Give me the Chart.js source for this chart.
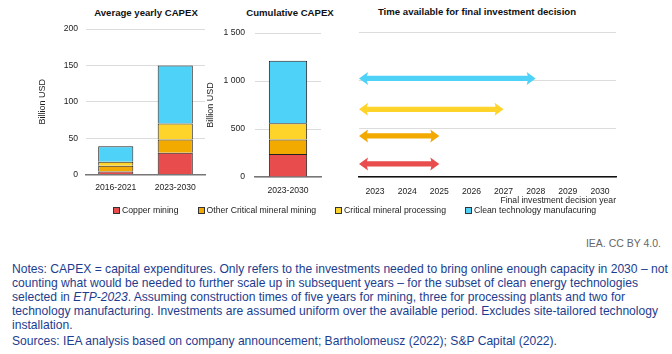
<!DOCTYPE html>
<html>
<head>
<meta charset="utf-8">
<script src="https://cdn.jsdelivr.net/npm/chart.js@4.4.1/dist/chart.umd.min.js"></script>
<style>
  body { margin: 0; width: 672px; height: 354px; background: #fff; position: relative; overflow: hidden;
         font-family: "Liberation Sans", Arial, sans-serif; }
  canvas, .abs { position: absolute; }
  .title { font-weight: bold; font-size: 9.6px; color: #111; transform: translateX(-50%); white-space: nowrap; }
  #legend { left: 113px; top: 205px; display: flex; font-size: 8.7px; color: #222; line-height: 11px; white-space: nowrap; }
  #legend span.item { margin-right: 19px; display: flex; align-items: center; }
  #legend i { display: inline-block; width: 5px; height: 5px; border: 1px solid #333; margin-right: 2px; }
  #credit { right: 11px; top: 237px; font-size: 10.5px; color: #666; }
  #notes { left: 12px; top: 262px; width: 658px; font-size: 12.1px; line-height: 14px; color: #1c3d8f; }
  #notes p { margin: 0; }
</style>
</head>
<body>

<div class="abs title" style="left:146px; top:7px">Average yearly CAPEX</div>
<div class="abs title" style="left:290px; top:7px">Cumulative CAPEX</div>
<div class="abs title" style="left:477px; top:6px">Time available for final investment decision</div>

<canvas id="avgChart" width="215" height="198" style="left:0; top:0"></canvas>
<canvas id="cumChart" width="135" height="198" style="left:196px; top:0"></canvas>
<canvas id="fidChart" width="276" height="207" style="left:350px; top:0"></canvas>

<div id="legend" class="abs"></div>
<div id="credit" class="abs">IEA. CC BY 4.0.</div>
<div id="notes" class="abs">
  <p>Notes: CAPEX = capital expenditures. Only refers to the investments needed to bring online enough capacity in 2030 – not counting what would be needed to further scale up in subsequent years – for the subset of clean energy technologies selected in <i>ETP-2023</i>. Assuming construction times of five years for mining, three for processing plants and two for technology manufacturing. Investments are assumed uniform over the available period. Excludes site-tailored technology installation.</p>
  <p style="margin-top:2px">Sources: IEA analysis based on company announcement; Bartholomeusz (2022); S&amp;P Capital (2022).</p>
</div>

<script>
const seriesNames = ['Copper mining', 'Other Critical mineral mining', 'Critical mineral processing', 'Clean technology manufacuring']
const seriesColors = ['#e84c4c', '#f2a900', '#ffd42a', '#4fd2f7']

// Average yearly CAPEX (billion USD)
const avgPeriods = ['2016-2021', '2023-2030']
const avgCopper = [4, 30]
const avgOther = [8, 18]
const avgProcessing = [5.5, 22]
const avgClean = [21.5, 80]

// Cumulative CAPEX (billion USD)
const cumPeriods = ['2023-2030']
const cumCopper = [240]
const cumOther = [150]
const cumProcessing = [170]
const cumClean = [650]

// Time available for final investment decision
const fidYears = [2023, 2024, 2025, 2026, 2027, 2028, 2029, 2030]
const fidStart = 2022.5
const fidEnd = [2025, 2025, 2027, 2028]
const fidLevels = [0.27, 0.85, 1.4, 2.04]

const font = { family: '"Liberation Sans", Arial, sans-serif', size: 8.6 }
const tickColor = '#222'
const gridColor = '#dcdcdc'

const barDatasets = (lists) => lists.map((values, i) => ({
  label: seriesNames[i],
  data: values,
  backgroundColor: seriesColors[i],
  borderColor: '#222',
  borderWidth: 1,
  barPercentage: 1,
  categoryPercentage: 0.59
}))

const stackedOptions = (opts) => ({
  responsive: false,
  animation: false,
  layout: { padding: opts.padding },
  plugins: { legend: { display: false }, tooltip: { enabled: false } },
  scales: {
    x: {
      stacked: true,
      grid: { display: false, drawTicks: false },
      border: { color: '#777', width: 1.5 },
      ticks: { color: tickColor, font, padding: opts.xPad, maxRotation: 0 },
      afterFit: (s) => { s.height = opts.xHeight }
    },
    y: {
      stacked: true,
      min: 0,
      max: opts.max,
      ticks: { stepSize: opts.step, color: tickColor, font, padding: opts.yPad, callback: opts.fmt },
      grid: { color: gridColor, drawTicks: false },
      border: { display: false },
      title: { display: true, text: 'Billion USD', color: tickColor, font: { ...font, size: 9 }, padding: { top: 4, bottom: 4 } },
      afterFit: (s) => { s.width = opts.yWidth }
    }
  }
})

new Chart(document.getElementById('avgChart'), {
  type: 'bar',
  data: { labels: avgPeriods, datasets: barDatasets([avgCopper, avgOther, avgProcessing, avgClean]) },
  options: stackedOptions({
    padding: { left: 33, right: 10, top: 29, bottom: 0 },
    max: 200, step: 50, yWidth: 53, xHeight: 23.5, xPad: 7.5, yPad: 8,
    fmt: (v) => v
  })
})

new Chart(document.getElementById('cumChart'), {
  type: 'bar',
  data: { labels: cumPeriods, datasets: barDatasets([cumCopper, cumOther, cumProcessing, cumClean]).map(d => ({ ...d, categoryPercentage: 0.58 })) },
  options: stackedOptions({
    padding: { left: 5.6, right: 10, top: 33, bottom: 0 },
    max: 1500, step: 500, yWidth: 53.4, xHeight: 21, xPad: 8.5, yPad: 10,
    fmt: (v) => String(v).replace(/\B(?=(\d{3})+(?!\d))/g, ' ')
  })
})

const arrowPlugin = {
  id: 'arrows',
  afterDatasetsDraw(chart) {
    const ctx = chart.ctx
    const head = 8, half = 6.5, shaft = 2.6
    chart.data.datasets.forEach((ds, i) => {
      const pts = chart.getDatasetMeta(i).data
      const x0 = pts[0].x, x1 = pts[1].x, y = pts[0].y
      ctx.save()
      ctx.fillStyle = ds.borderColor
      ctx.beginPath()
      ctx.moveTo(x0, y)
      ctx.lineTo(x0 + head + 1, y - half)
      ctx.lineTo(x0 + head, y - shaft)
      ctx.lineTo(x1 - head, y - shaft)
      ctx.lineTo(x1 - head - 1, y - half)
      ctx.lineTo(x1, y)
      ctx.lineTo(x1 - head - 1, y + half)
      ctx.lineTo(x1 - head, y + shaft)
      ctx.lineTo(x0 + head, y + shaft)
      ctx.lineTo(x0 + head + 1, y + half)
      ctx.closePath()
      ctx.fill()
      ctx.restore()
    })
  }
}

new Chart(document.getElementById('fidChart'), {
  type: 'scatter',
  data: {
    datasets: seriesNames.map((name, i) => ({
      label: name,
      data: [{ x: fidStart, y: fidLevels[i] }, { x: fidEnd[i], y: fidLevels[i] }],
      borderColor: seriesColors[i],
      backgroundColor: seriesColors[i],
      pointRadius: 0,
      showLine: false
    }))
  },
  plugins: [arrowPlugin],
  options: {
    responsive: false,
    animation: false,
    layout: { padding: { left: 9, right: 10, top: 32, bottom: 0 } },
    plugins: { legend: { display: false }, tooltip: { enabled: false } },
    scales: {
      x: {
        type: 'linear',
        min: fidStart,
        max: fidYears[fidYears.length - 1] + 0.5,
        afterBuildTicks: (s) => { s.ticks = fidYears.map(v => ({ value: v })) },
        ticks: { color: tickColor, font, padding: 9, maxRotation: 0, callback: (v) => v },
        grid: { display: false, drawTicks: false },
        border: { color: '#111', width: 1.5 },
        title: { display: true, text: 'Final investment decision year', align: 'end', color: tickColor, font, padding: { top: 0, bottom: 1 } },
        afterFit: (s) => { s.height = 30 }
      },
      y: {
        min: 0,
        max: 3,
        ticks: { display: false, stepSize: 1 },
        grid: { color: gridColor, drawTicks: false },
        border: { display: false },
        afterFit: (s) => { s.width = 0 }
      }
    }
  }
})

const legend = document.getElementById('legend')
seriesNames.forEach((name, i) => {
  legend.innerHTML += `<span class="item"><i style="background:${seriesColors[i]}"></i>${name}</span>`
})
</script>
</body>
</html>
